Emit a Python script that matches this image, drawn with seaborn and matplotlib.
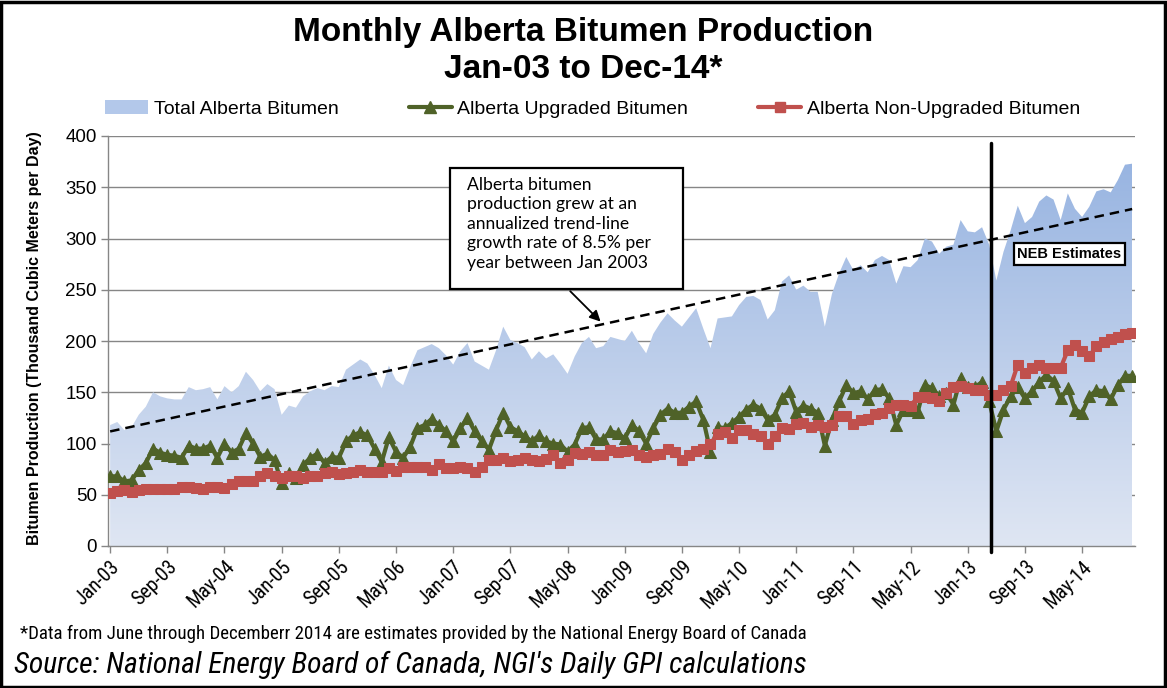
import numpy as np
import pandas as pd
import matplotlib
matplotlib.use("Agg")
import matplotlib.pyplot as plt
import seaborn as sns
from matplotlib.patches import Rectangle, Patch
from matplotlib.lines import Line2D
import matplotlib.colors as mcolors
from matplotlib import font_manager as fm

# ---------------- data ----------------
months = pd.date_range("2003-01-01", "2014-12-01", freq="MS")
month_labels = [d.strftime("%b-%y") for d in months]

total = [118, 121, 113, 116, 128, 136, 150, 146, 144, 143, 143, 155,
         152, 153, 155, 143, 156, 150, 156, 170, 162, 151, 158, 153,
         128, 137, 135, 146, 151, 154, 152, 156, 155, 172, 177, 182,
         178, 167, 154, 176, 162, 157, 175, 191, 194, 197, 193, 186,
         177, 190, 198, 180, 176, 172, 191, 214, 201, 198, 194, 182,
         190, 183, 187, 178, 168, 185, 198, 204, 193, 195, 204, 202,
         200, 210, 198, 188, 207, 218, 227, 220, 214, 223, 232, 212,
         193, 222, 223, 224, 235, 243, 244, 240, 221, 230, 258, 264,
         250, 254, 248, 248, 214, 246, 266, 282, 269, 274, 267, 279,
         283, 279, 256, 273, 272, 279, 300, 297, 285, 292, 294, 318,
         307, 306, 311, 294, 259, 287, 308, 332, 315, 321, 336, 342,
         338, 318, 344, 329, 321, 331, 346, 348, 345, 357, 372, 373]

upgraded = [68, 68, 63, 64, 74, 81, 95, 91, 89, 88, 86, 98,
            95, 95, 98, 86, 100, 91, 95, 110, 100, 87, 90, 84,
            61, 71, 66, 79, 86, 90, 81, 87, 86, 102, 108, 111,
            108, 95, 82, 106, 92, 86, 97, 115, 118, 124, 118, 112,
            102, 115, 125, 112, 102, 94, 113, 130, 116, 112, 107, 102,
            108, 102, 100, 99, 92, 99, 115, 116, 104, 104, 112, 110,
            105, 118, 112, 100, 115, 128, 134, 130, 130, 136, 141, 123,
            92, 116, 115, 120, 126, 133, 138, 134, 123, 128, 144, 151,
            131, 137, 134, 130, 98, 123, 141, 157, 149, 151, 143, 152,
            153, 144, 118, 133, 133, 131, 157, 154, 146, 149, 138, 164,
            155, 155, 160, 141, 112, 133, 146, 155, 144, 151, 160, 167,
            161, 144, 154, 133, 130, 146, 152, 151, 143, 157, 166, 166]

non_upgraded = [52, 54, 54.5, 53, 55, 56, 56, 56, 56, 56, 58, 58,
                57, 55.5, 58, 58, 57, 60.5, 63, 63, 63, 68, 71, 68,
                66, 68, 68, 66, 68, 68, 71, 72.5, 70, 71, 72.5, 74,
                72.5, 72.5, 72.5, 76, 73.5, 77, 77, 77, 77, 74, 80, 76,
                76, 77, 76, 72.5, 77, 84, 84, 85.5, 83, 84, 85.5, 84,
                83, 84.5, 89, 81, 84, 91, 90, 92, 89, 89, 94, 92,
                93, 94, 89, 87, 89, 90, 95, 92, 84, 89, 93, 95,
                100, 109, 111, 105, 113, 113, 109, 107, 100, 107, 115, 114,
                119, 120, 116, 118, 116, 118, 127, 127, 119, 123, 124, 129,
                130, 135, 138, 138, 137, 145, 145, 144, 141, 149, 155, 156,
                154, 152, 152, 147, 147, 152, 156, 177, 169, 174, 177, 174,
                174, 174, 191, 196, 190, 185, 195, 199, 202, 204, 207, 208]

tick_labels = ["Jan-03", "Sep-03", "May-04", "Jan-05", "Sep-05", "May-06",
               "Jan-07", "Sep-07", "May-08", "Jan-09", "Sep-09", "May-10",
               "Jan-11", "Sep-11", "May-12", "Jan-13", "Sep-13", "May-14"]
y_ticks = [0, 50, 100, 150, 200, 250, 300, 350, 400]

df = pd.DataFrame({"month": month_labels, "idx": np.arange(len(month_labels)),
                   "total": total, "upgraded": upgraded,
                   "non_upgraded": non_upgraded})

# ---------------- style ----------------
sns.set_style("white")
plt.rcParams["font.family"] = ["Liberation Sans", "DejaVu Sans"]
for k in ["text.color", "axes.labelcolor", "xtick.color", "ytick.color"]:
    plt.rcParams[k] = "black"

# a condensed face for the footnotes if one is installed
names = {f.name for f in fm.fontManager.ttflist}
narrow = None
for cand in ["Liberation Sans Narrow", "Arial Narrow", "DejaVu Sans Condensed",
             "Roboto Condensed", "Open Sans Condensed", "Noto Sans Condensed"]:
    if cand in names:
        narrow = cand
        break
cond_faces = [f for f in fm.fontManager.ttflist
              if f.name in ("DejaVu Sans", "Noto Sans", "Open Sans", "Roboto")
              and str(f.stretch) in ("condensed", "semi-condensed", "75", "87.5")]
if narrow is None and cond_faces:
    narrow = cond_faces[0].name
    narrow_stretch = "condensed"
else:
    narrow_stretch = "normal"
narrow_family = [narrow, "DejaVu Sans"] if narrow else ["Liberation Sans", "DejaVu Sans"]
scale_fn = 1.0 if narrow else 0.75

green = "#4F6228"
red = "#C0504D"
grid_grey = "#868686"

fig = plt.figure(figsize=(11.67, 6.88), dpi=100)
ax = fig.add_axes([108 / 1167, 1 - 546 / 688, (1135 - 108) / 1167, (546 - 136) / 688])

x = df["idx"].to_numpy()
n = len(x)

# gradient area for total
poly = ax.fill_between(x, 0, df["total"], facecolor="none", edgecolor="none")
c_top = np.array(mcolors.to_rgb("#93B1E0"))
c_bot = np.array(mcolors.to_rgb("#DFE6F3"))
t = np.linspace(0, 1, 256)[:, None]
grad = (c_bot * (1 - t) + c_top * t)[:, None, :]
img = ax.imshow(grad, extent=[x[0], x[-1], 0, 400], origin="lower",
                aspect="auto", zorder=1, interpolation="bilinear")
img.set_clip_path(poly.get_paths()[0], transform=ax.transData)

# trend line (linear fit of total, like the spreadsheet trendline)
coef = np.polyfit(x, df["total"], 1)
ax.plot(x, np.polyval(coef, x), color="black", lw=1.8, dashes=(3.8, 2.4), zorder=4)

sns.lineplot(data=df, x="idx", y="upgraded", ax=ax, color=green, lw=3,
             marker="^", markersize=9, markeredgecolor=green, zorder=5)
sns.lineplot(data=df, x="idx", y="non_upgraded", ax=ax, color=red, lw=3,
             marker="s", markersize=7.5, markeredgecolor=red, zorder=6)

ax.set_xlim(-0.3, n - 1 + 0.4)
ax.set_ylim(0, 400)
ax.set_yticks(y_ticks)
ax.set_yticklabels([str(v) for v in y_ticks], fontsize=13.5)
tick_pos = [month_labels.index(lbl) for lbl in tick_labels]
ax.set_xticks(tick_pos)
ax.set_xticklabels(tick_labels, rotation=45, ha="right", rotation_mode="anchor",
                   fontsize=14.5 * scale_fn * (1.0 if narrow else 1.15),
                   family=narrow_family, fontstretch=narrow_stretch)
ax.tick_params(axis="both", direction="out", length=5, width=1, color=grid_grey,
               bottom=True, left=True, pad=3)
ax.yaxis.grid(True, color=grid_grey, lw=1)
for gl in ax.get_ygridlines():
    gl.set_zorder(0.5)
for s in ["top", "right"]:
    ax.spines[s].set_visible(False)
for s in ["left", "bottom"]:
    ax.spines[s].set_color(grid_grey)
    ax.spines[s].set_linewidth(1)
ax.set_xlabel("")
ax.set_ylabel("")

# vertical line marking estimates
ax.plot([123.3, 123.3], [-6, 393], color="black", lw=2.5, clip_on=False, zorder=7)

# annotation box
ax.add_patch(Rectangle((47.6, 250.7), 32.5, 118.1, facecolor="white",
                       edgecolor="black", lw=1.6, zorder=8))
ax.text(49.9, 360, "Alberta bitumen\nproduction grew at an\nannualized trend-line\n"
        "growth rate of 8.5% per\nyear between Jan 2003",
        ha="left", va="top", fontsize=12.6, family=["Lato", "DejaVu Sans"],
        linespacing=1.26, zorder=9)
ax.annotate("", xy=(68.9, 217), xytext=(64.1, 250.5),
            arrowprops=dict(arrowstyle="-|>", color="black", lw=1.3,
                            mutation_scale=16), zorder=9)

# NEB estimates box
ax.text(134.2, 285, "NEB Estimates", ha="center", va="center", fontsize=10.5,
        fontweight="bold", zorder=9,
        bbox=dict(boxstyle="square,pad=0.25", facecolor="white",
                  edgecolor="black", lw=1.6))

# titles and texts
fig.text(0.5, 1 - 32 / 688, "Monthly Alberta Bitumen Production", ha="center",
         va="center", fontsize=24, fontweight="bold")
fig.text(0.5, 1 - 70 / 688, "Jan-03 to Dec-14*", ha="center", va="center",
         fontsize=24, fontweight="bold")
fig.text(35 / 1167, 1 - 338 / 688,
         "Bitumen Production (Thousand Cubic Meters per Day)",
         rotation=90, ha="center", va="center", fontsize=11.5, fontweight="bold")
fig.text(20 / 1167, 1 - 634 / 688,
         "*Data from June through Decemberr 2014 are estimates provided by the "
         "National Energy Board of Canada",
         ha="left", va="center", fontsize=13.6 * scale_fn,
         family=narrow_family, fontstretch=narrow_stretch)
fig.text(14 / 1167, 1 - 665 / 688,
         "Source: National Energy Board of Canada, NGI's Daily GPI calculations",
         ha="left", va="center", fontsize=21.3 * scale_fn,
         style="italic", family=narrow_family, fontstretch=narrow_stretch)

# legend
handles = [Patch(facecolor="#B3C8EA", edgecolor="none"),
           Line2D([], [], color=green, lw=3, marker="^", markersize=9),
           Line2D([], [], color=red, lw=3, marker="s", markersize=7.5)]
labels = ["Total Alberta Bitumen", "Alberta Upgraded Bitumen",
          "Alberta Non-Upgraded Bitumen"]
fig.legend(handles, labels, loc="center", bbox_to_anchor=(0.508, 1 - 109 / 688),
           ncol=3, frameon=False, fontsize=14, handlelength=2.2,
           handletextpad=0.3, columnspacing=3.6)

# outer border
fig.add_artist(Rectangle((0.001, 0.002), 0.997, 0.995, transform=fig.transFigure,
                         fill=False, edgecolor="black", lw=2.5))

fig.savefig("out.png", dpi=100)
